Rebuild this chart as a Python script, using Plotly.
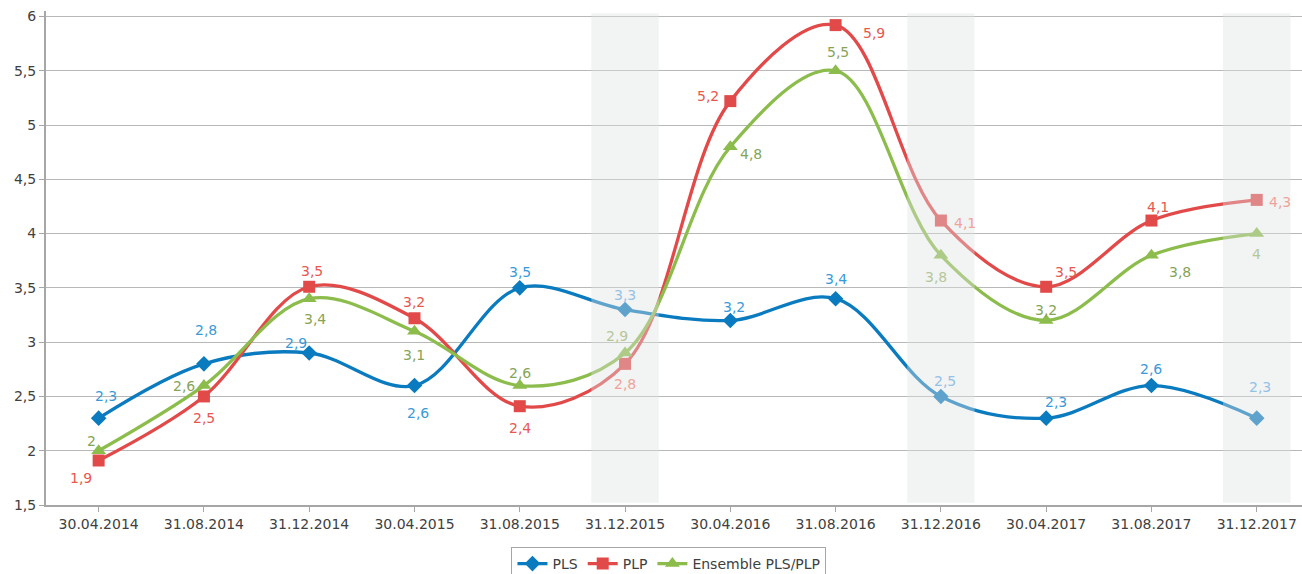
import plotly.graph_objects as go

categories = ["30.04.2014", "31.08.2014", "31.12.2014", "30.04.2015", "31.08.2015", "31.12.2015",
              "30.04.2016", "31.08.2016", "31.12.2016", "30.04.2017", "31.08.2017", "31.12.2017"]
pls = [2.3, 2.8, 2.9, 2.6, 3.5, 3.3, 3.2, 3.4, 2.5, 2.3, 2.6, 2.3]
plp = [1.91, 2.5, 3.51, 3.22, 2.41, 2.8, 5.22, 5.92, 4.12, 3.51, 4.12, 4.31]
ens = [2.0, 2.6, 3.4, 3.1, 2.6, 2.9, 4.8, 5.5, 3.8, 3.2, 3.8, 4.0]
highlight = ["31.12.2015", "31.12.2016", "31.12.2017"]

# label offsets (px) per point
pls_off = [(7, 22), (2, 34), (-13, 10), (4, -27), (0, 16), (0, 15), (4, 13), (0, 20), (4, 15), (10, 16), (0, 17), (3, 31)]
plp_off = [(-18, -18), (0, -22), (3, 16), (0, 16), (0, -22), (0, -20), (-22, 5), (38, -8), (24, -2), (20, 15), (7, 14), (23, -2)]
ens_off = [(-7, 10), (-20, 0), (6, -20), (0, -24), (0, 13), (-8, 17), (21, -7), (2, 19), (-5, -22), (0, 10), (29, -17), (0, -20)]

series = [
    ("PLS", pls, "#0a7bbf", "#3a9ad8", "#93c2e6", "diamond", 12, pls_off),
    ("PLP", plp, "#e24a4a", "#e8584e", "#eea39b", "square", 12, plp_off),
    ("Ensemble PLS/PLP", ens, "#8cbd4c", "#86a356", "#b5c79a", "triangle-up", 13, ens_off),
]

fig = go.Figure()
annotations = []
x_idx = list(range(len(categories)))
for name, vals, lc, tc, tcl, sym, ms, offs in series:
    fig.add_trace(go.Scatter(
        x=x_idx, y=vals, name=name, mode="lines+markers",
        line=dict(color=lc, width=3.3, shape="spline", smoothing=1.0),
        marker=dict(symbol=sym, size=ms, color=lc),
    ))
    for i, v in enumerate(vals):
        dx, dy = offs[i]
        annotations.append(dict(
            x=i, y=v, xref="x", yref="y", text=f"{v:.1f}".replace(".", ",").replace(",0", ""),
            showarrow=False, xshift=dx, yshift=dy,
            font=dict(family="DejaVu Sans", size=14,
                      color=tcl if categories[i] in highlight else tc),
        ))

shapes = []
for c in highlight:
    i = categories.index(c)
    shapes.append(dict(type="rect", xref="x", yref="y", x0=i - 0.32, x1=i + 0.32,
                       y0=1.52, y1=6.03, layer="above", line=dict(width=0),
                       fillcolor="rgba(222,226,226,0.4)"))

fig.update_layout(
    width=1302, height=574,
    margin=dict(l=46, r=0, t=11, b=69, autoexpand=False),
    plot_bgcolor="white", paper_bgcolor="white",
    separators=", ",
    font=dict(family="DejaVu Sans", size=13, color="#404040"),
    shapes=shapes, annotations=annotations,
    showlegend=True,
    legend=dict(orientation="h", x=0.496, xanchor="center", y=-0.085, yanchor="top",
                bordercolor="#a6a6a6", borderwidth=1, bgcolor="white",
                font=dict(family="DejaVu Sans", size=14, color="#404040"),
                itemwidth=30, tracegroupgap=0),
)
fig.update_xaxes(
    range=[-0.5, 11.43], tickmode="array", tickvals=x_idx, ticktext=categories,
    automargin=False,
    showgrid=False, zeroline=False, showline=True, linecolor="#a6a6a6", linewidth=2,
    ticks="outside", ticklen=5, tickcolor="#a6a6a6",
    tickfont=dict(family="DejaVu Sans", size=14, color="#404040"),
)
fig.update_yaxes(
    range=[1.5, 6.05], tickvals=[1.5, 2, 2.5, 3, 3.5, 4, 4.5, 5, 5.5, 6],
    automargin=False,
    showgrid=True, gridcolor="#b8b8b8", gridwidth=1, zeroline=False,
    showline=True, linecolor="#a6a6a6", linewidth=2,
    ticks="outside", ticklen=5, tickcolor="#a6a6a6",
    tickfont=dict(family="DejaVu Sans", size=14, color="#404040"),
)

fig.write_html("out.html", config={"displayModeBar": False},
               post_script="document.body.style.margin='0';document.body.style.overflow='hidden';")
